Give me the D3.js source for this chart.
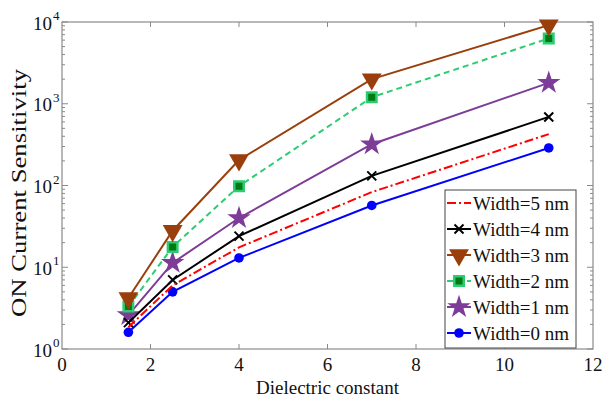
<!DOCTYPE html>
<html>
<head>
<meta charset="utf-8">
<script src="https://cdn.jsdelivr.net/npm/d3@7"></script>
<style>
html,body{margin:0;padding:0;background:#fff;}
svg{display:block;}
text{font-family:"Liberation Serif","Times New Roman",serif;fill:#111;}
</style>
</head>
<body>
<svg id="chart" width="602" height="401"></svg>
<script>
// ---- data ----
const dielectric = [1.5, 2.5, 4, 7, 11];
const seriesNames = ["Width=5 nm", "Width=4 nm", "Width=3 nm", "Width=2 nm", "Width=1 nm", "Width=0 nm"];
const width5 = [1.85, 6.0, 17.5, 83, 425];
const width4 = [2.1, 7.0, 24, 131, 690];
const width3 = [4.2, 28, 205, 2000, 9150];
const width2 = [3.3, 17.7, 98, 1200, 6300];
const width1 = [2.6, 11.3, 40, 320, 1800];
const width0 = [1.6, 5.0, 13, 57, 288];
const xTicks = [0, 2, 4, 6, 8, 10, 12];
const yTickExps = [0, 1, 2, 3, 4];

const styles = [
  {color:"#ff0000", dash:"9,3,2,3", marker:"none"},
  {color:"#000000", dash:null, marker:"x"},
  {color:"#9a3f0c", dash:null, marker:"tri"},
  {color:"#2ecc71", dash:"6,4", marker:"square"},
  {color:"#7d3c98", dash:null, marker:"star"},
  {color:"#0000ff", dash:null, marker:"circle"}
];
const allValues = [width5, width4, width3, width2, width1, width0];

const svg = d3.select("#chart");
const L = 62, R = 593, T = 22, B = 349;
const x = d3.scaleLinear().domain([0, 12]).range([L, R]);
const y = d3.scaleLog().domain([1, 1e4]).range([B, T]);

// frame
const axisColor = "#8a8a8a";
svg.append("rect").attr("x", L).attr("y", T).attr("width", R - L).attr("height", B - T)
  .attr("fill", "none").attr("stroke", axisColor).attr("stroke-width", 1.2);

// x ticks (bottom and top, inward)
const g = svg.append("g");
xTicks.forEach(t => {
  if (t === 0 || t === 12) return;
  g.append("line").attr("x1", x(t)).attr("x2", x(t)).attr("y1", B).attr("y2", B - 5).attr("stroke", axisColor);
  g.append("line").attr("x1", x(t)).attr("x2", x(t)).attr("y1", T).attr("y2", T + 5).attr("stroke", axisColor);
});
xTicks.forEach(t => {
  svg.append("text").attr("x", x(t)).attr("y", 371).attr("text-anchor", "middle")
    .attr("font-size", 19).text(t);
});

// y ticks major + minor
for (let e = 0; e < 4; e++) {
  for (let m = 2; m <= 9; m++) {
    const v = m * Math.pow(10, e);
    g.append("line").attr("x1", L).attr("x2", L + 3).attr("y1", y(v)).attr("y2", y(v)).attr("stroke", axisColor);
    g.append("line").attr("x1", R).attr("x2", R - 3).attr("y1", y(v)).attr("y2", y(v)).attr("stroke", axisColor);
  }
}
yTickExps.forEach(e => {
  const v = Math.pow(10, e);
  g.append("line").attr("x1", L).attr("x2", L + 6).attr("y1", y(v)).attr("y2", y(v)).attr("stroke", axisColor);
  g.append("line").attr("x1", R).attr("x2", R - 6).attr("y1", y(v)).attr("y2", y(v)).attr("stroke", axisColor);
  svg.append("text").attr("x", 52).attr("y", y(v) + 7.5).attr("text-anchor", "end").attr("font-size", 19).text("10");
  svg.append("text").attr("x", 53).attr("y", y(v) - 2).attr("font-size", 13).text(e);
});

// axis titles
svg.append("text").attr("x", (x(0) + x(12)) / 2).attr("y", 394).attr("text-anchor", "middle")
  .attr("font-size", 19).text("Dielectric constant");
svg.append("text").attr("transform", "translate(26,193) rotate(-90)")
  .attr("text-anchor", "middle").attr("font-size", 20)
  .attr("textLength", 248).attr("lengthAdjust", "spacingAndGlyphs")
  .text("ON Current Sensitivity");

// marker drawing
function drawMarker(sel, kind, color, cx, cy) {
  if (kind === "x") {
    sel.append("path").attr("d", `M${cx-4.5},${cy-4.5}L${cx+4.5},${cy+4.5}M${cx-4.5},${cy+4.5}L${cx+4.5},${cy-4.5}`)
      .attr("stroke", color).attr("stroke-width", 2).attr("fill", "none");
  } else if (kind === "tri") {
    sel.append("path").attr("d", d3.symbol(d3.symbolTriangle, 170)())
      .attr("transform", `translate(${cx},${cy}) rotate(180)`).attr("fill", color);
  } else if (kind === "square") {
    sel.append("path").attr("d", d3.symbol(d3.symbolSquare, 90)())
      .attr("transform", `translate(${cx},${cy})`).attr("fill", "#007a12").attr("stroke", color).attr("stroke-width", 2.5);
  } else if (kind === "star") {
    sel.append("path").attr("d", d3.symbol(d3.symbolStar, 170)())
      .attr("transform", `translate(${cx},${cy})`).attr("fill", color);
  } else if (kind === "circle") {
    sel.append("circle").attr("cx", cx).attr("cy", cy).attr("r", 4.8).attr("fill", color);
  }
}

const line = d3.line().x(d => x(d[0])).y(d => y(d[1]));
[5,4,3,2,1,0].forEach(i => {
  const st = styles[i];
  const pts = dielectric.map((d, j) => [d, allValues[i][j]]);
  const gs = svg.append("g");
  gs.append("path").attr("d", line(pts)).attr("fill", "none").attr("stroke", st.color)
    .attr("stroke-width", 2).attr("stroke-dasharray", st.dash);
  pts.forEach(p => drawMarker(gs, st.marker, st.color, x(p[0]), y(p[1])));
});

// legend
const lgX = 445, lgW = 131, lgTop = 190, lgH = 158, rowH = 26;
svg.append("rect").attr("x", lgX).attr("y", lgTop).attr("width", lgW).attr("height", lgH)
  .attr("fill", "#fff").attr("stroke", "#444").attr("stroke-width", 1);
seriesNames.forEach((name, i) => {
  const cy = lgTop + 13 + i * rowH;
  const st = styles[i];
  svg.append("line").attr("x1", lgX + 2).attr("x2", lgX + 26).attr("y1", cy).attr("y2", cy)
    .attr("stroke", st.color).attr("stroke-width", 2).attr("stroke-dasharray", st.dash);
  drawMarker(svg, st.marker, st.color, lgX + 14, cy);
  svg.append("text").attr("x", lgX + 28).attr("y", cy + 6.5).attr("font-size", 19).text(name);
});
</script>
</body>
</html>
